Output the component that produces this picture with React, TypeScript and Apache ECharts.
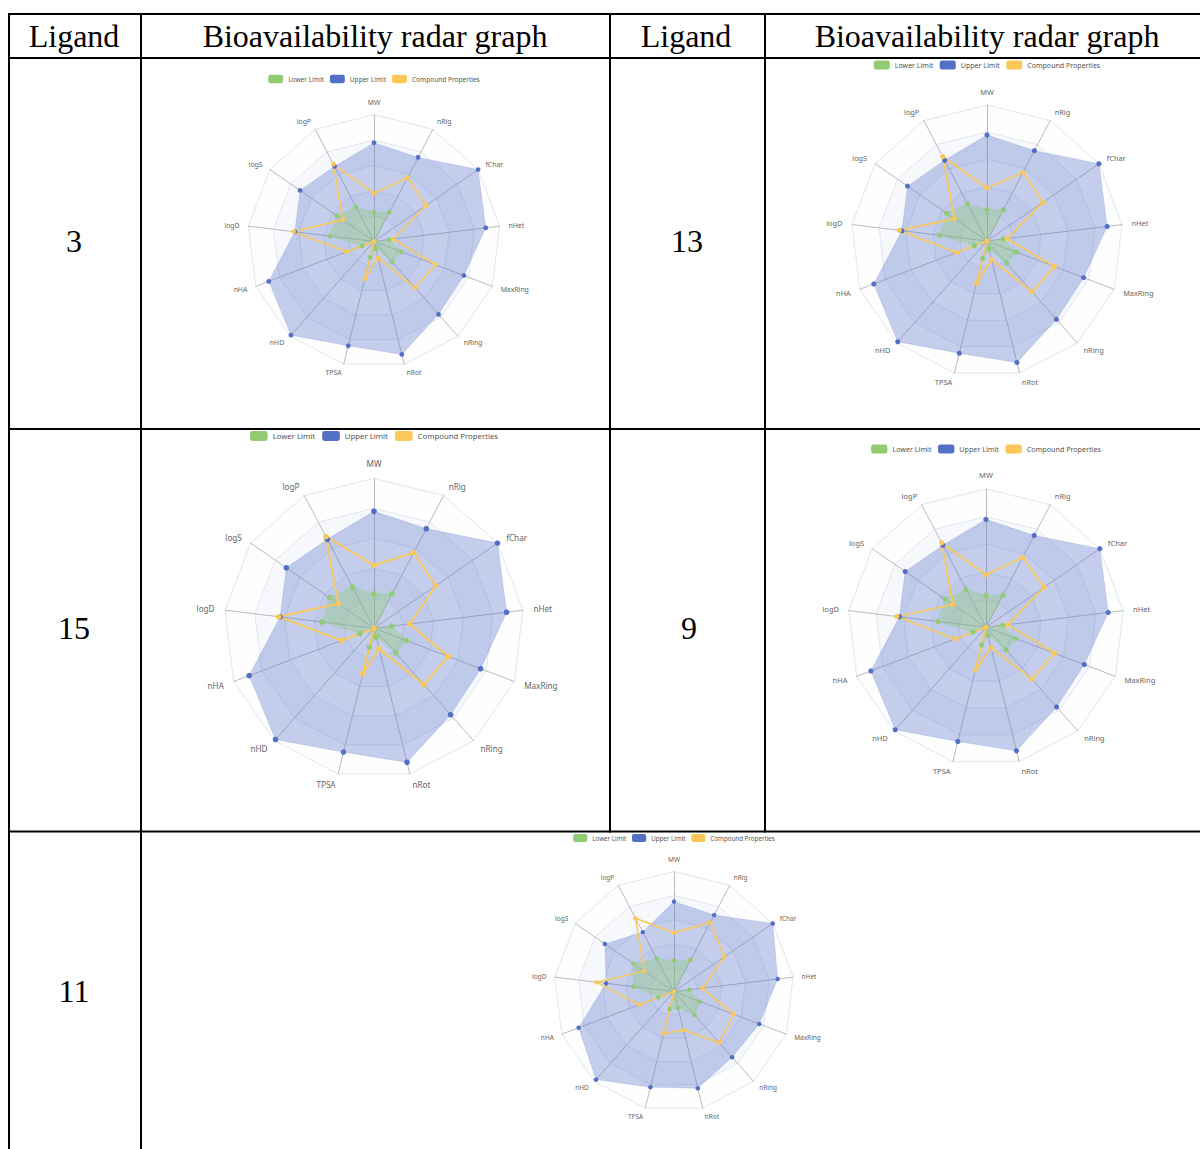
import React, { useEffect, useRef } from "react";
import * as echarts from "echarts";

// Radar axes, listed clockwise starting from the top
const indicatorNames = ["MW", "nRig", "fChar", "nHet", "MaxRing", "nRing", "nRot", "TPSA", "nHD", "nHA", "logD", "logS", "logP"];
const seriesNames = ["Lower Limit", "Upper Limit", "Compound Properties"];
const seriesColors = ["#91cc75", "#5470c6", "#fac858"];

// normalised values (0..1 of axis max), same order as indicatorNames
const lowerLimit = [0.23, 0.26, 0, 0.12, 0.23, 0.22, 0.06, 0.13, 0, 0.1, 0.35, 0.36, 0.31];
const upperLimit = [0.78, 0.75, 1.0, 0.89, 0.76, 0.77, 0.92, 0.85, 0.99, 0.89, 0.63, 0.71, 0.67];
const lowerLimit11 = [0.26, 0.3, 0, 0.13, 0.23, 0.26, 0.14, 0.15, 0, 0.14, 0.34, 0.41, 0.31];
const upperLimit11 = [0.75, 0.72, 1.0, 0.87, 0.76, 0.73, 0.83, 0.82, 0.98, 0.85, 0.57, 0.7, 0.56];

const compound3 = [0.38, 0.57, 0.5, 0.155, 0.52, 0.49, 0.134, 0.305, 0, 0.23, 0.64, 0.3, 0.69];
const compound13 = [0.39, 0.57, 0.5, 0.15, 0.53, 0.5, 0.14, 0.32, 0, 0.24, 0.65, 0.29, 0.7];
const compound15 = [0.42, 0.57, 0.5, 0.24, 0.53, 0.5, 0.14, 0.31, 0, 0.23, 0.64, 0.29, 0.69];
const compound9 = [0.38, 0.57, 0.51, 0.16, 0.53, 0.5, 0.15, 0.32, 0, 0.24, 0.65, 0.29, 0.69];
const compound11 = [0.49, 0.65, 0.51, 0.24, 0.53, 0.57, 0.33, 0.36, 0, 0.31, 0.65, 0.3, 0.69];

const headerLabels = ["Ligand", "Bioavailability radar graph", "Ligand", "Bioavailability radar graph"];
const ligandLabels = ["3", "13", "15", "9", "11"];

// layout (page pixels)
const charts = [
  { ligand: "3", compound: compound3, lower: lowerLimit, upper: upperLimit, cx: 374.3, cy: 241.7, R: 126.5, legendY: 79.3 },
  { ligand: "13", compound: compound13, lower: lowerLimit, upper: upperLimit, cx: 986.7, cy: 240.7, R: 136, legendY: 64.7 },
  { ligand: "15", compound: compound15, lower: lowerLimit, upper: upperLimit, cx: 373.7, cy: 628.3, R: 150, legendY: 436 },
  { ligand: "9", compound: compound9, lower: lowerLimit, upper: upperLimit, cx: 986.3, cy: 627, R: 138.3, legendY: 448.7 },
  { ligand: "11", compound: compound11, lower: lowerLimit11, upper: upperLimit11, cx: 674.3, cy: 991.3, R: 120, legendY: 837.7 },
];

const ligandPos = [
  { x: 74, y: 241 },
  { x: 687, y: 241 },
  { x: 74, y: 628 },
  { x: 689, y: 628 },
  { x: 74, y: 991 },
];
const headerPos = [74, 375, 686, 987];

const FONT = '"Noto Sans", "Open Sans", sans-serif';
const SERIF = '"Liberation Serif", "Times New Roman", serif';

// ECharts places indicators counter-clockwise, so reverse all but the first
const toRadarOrder = <T,>(a: T[]): T[] => [a[0], ...a.slice(1).reverse()];

function boxOf(c: (typeof charts)[number]) {
  const halfW = 210;
  const top = c.legendY - 14;
  const bottom = c.cy + c.R + 35;
  return { left: c.cx - halfW, top, w: halfW * 2, h: bottom - top };
}

function radarOption(c: (typeof charts)[number]) {
  const s = c.R / 212;
  const box = boxOf(c);
  const indicator = toRadarOrder(indicatorNames).map((name) => ({ name, min: 0, max: 1 }));
  const values = [c.lower, c.upper, c.compound];
  // draw the upper-limit area first, then lower limit, then the compound line
  const drawOrder = [1, 0, 2];
  return {
    animation: false,
    color: seriesColors,
    legend: {
      data: seriesNames,
      left: "center",
      top: c.legendY - 7 * s - box.top,
      padding: 0,
      icon: "roundRect",
      itemWidth: 25 * s,
      itemHeight: 14 * s,
      itemGap: 10 * s,
      textStyle: { fontSize: 11 * s, color: "#555", fontFamily: FONT, padding: [0, 0, 0, 0] },
    },
    radar: {
      center: [c.cx - box.left, c.cy - box.top],
      radius: c.R,
      startAngle: 90,
      splitNumber: 5,
      shape: "polygon",
      indicator,
      axisNameGap: 15 * s,
      axisName: { color: "#666", fontSize: 11.5 * s, fontFamily: FONT },
      splitLine: { lineStyle: { color: "#E0E6F1", width: 1 } },
      splitArea: { show: true, areaStyle: { color: ["rgba(250,250,250,0.2)", "rgba(210,219,238,0.2)"] } },
      axisLine: { show: true, lineStyle: { color: "#bbb", width: 1 } },
      axisTick: { show: false },
      axisLabel: { show: false },
    },
    series: [
      {
        type: "radar",
        symbol: "circle",
        symbolSize: 8 * s,
        data: drawOrder.map((i) => ({
          name: seriesNames[i],
          value: toRadarOrder(values[i]),
          itemStyle: { color: seriesColors[i] },
          lineStyle:
            i === 2
              ? { color: seriesColors[i], width: 2.6 * s }
              : { color: seriesColors[i], width: 1 * s, opacity: 0.3 },
          areaStyle: i === 2 ? undefined : { color: seriesColors[i], opacity: i === 0 ? 0.38 : 0.34 },
        })),
      },
    ],
  };
}

function tableOption() {
  const black = { stroke: "#000", lineWidth: 2 };
  const hLines = [14, 58, 429, 831.5].map((y) => ({
    type: "line",
    shape: { x1: 8, y1: y, x2: 1200, y2: y },
    style: black,
    silent: true,
  }));
  const vLines = [
    { x: 9, y1: 13, y2: 1149 },
    { x: 141, y1: 13, y2: 1149 },
    { x: 610, y1: 13, y2: 832.5 },
    { x: 765, y1: 13, y2: 832.5 },
  ].map((v) => ({
    type: "line",
    shape: { x1: v.x, y1: v.y1, x2: v.x, y2: v.y2 },
    style: black,
    silent: true,
  }));
  const headers = headerLabels.map((t, i) => ({
    type: "text",
    x: headerPos[i],
    y: 35.5,
    style: { text: t, fontSize: 32, fontFamily: SERIF, fill: "#000", align: "center", verticalAlign: "middle" },
    silent: true,
  }));
  const ligands = ligandLabels.map((t, i) => ({
    type: "text",
    x: ligandPos[i].x,
    y: ligandPos[i].y,
    style: { text: t, fontSize: 32, fontFamily: SERIF, fill: "#000", align: "center", verticalAlign: "middle" },
    silent: true,
  }));
  return { animation: false, graphic: [...hLines, ...vLines, ...headers, ...ligands] };
}

export default function App() {
  const tableRef = useRef<HTMLDivElement | null>(null);
  const chartRefs = useRef<(HTMLDivElement | null)[]>([]);

  useEffect(() => {
    const instances: echarts.ECharts[] = [];
    if (tableRef.current) {
      const t = echarts.init(tableRef.current, null, { renderer: "svg" });
      t.setOption(tableOption() as any);
      instances.push(t);
    }
    charts.forEach((c, i) => {
      const el = chartRefs.current[i];
      if (!el) return;
      const inst = echarts.init(el, null, { renderer: "svg" });
      inst.setOption(radarOption(c) as any);
      instances.push(inst);
    });
    return () => instances.forEach((x) => x.dispose());
  }, []);

  return (
    <div style={{ position: "absolute", left: 0, top: 0, width: 1200, height: 1149, background: "#fff", overflow: "hidden" }}>
      <div ref={tableRef} style={{ position: "absolute", left: 0, top: 0, width: 1200, height: 1149 }} />
      {charts.map((c, i) => {
        const b = boxOf(c);
        return (
          <div
            key={c.ligand}
            ref={(el) => {
              chartRefs.current[i] = el;
            }}
            style={{ position: "absolute", left: b.left, top: b.top, width: b.w, height: b.h }}
          />
        );
      })}
    </div>
  );
}
